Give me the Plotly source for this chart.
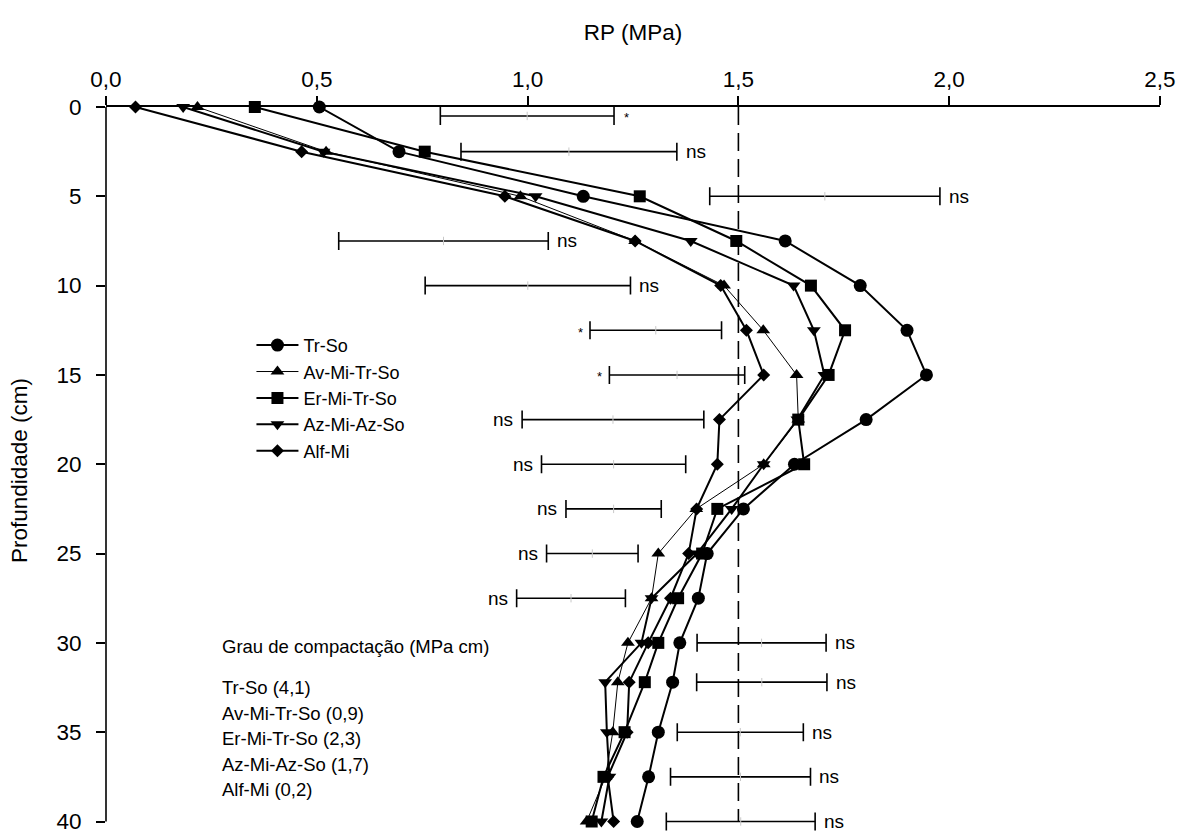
import plotly.graph_objects as go

# ---------------- data ----------------
depth = [0, 2.5, 5, 7.5, 10, 12.5, 15, 17.5, 20, 22.5, 25, 27.5, 30, 32.2, 35, 37.5, 40]

tr_so = [0.506, 0.695, 1.132, 1.611, 1.789, 1.900, 1.946, 1.803, 1.633, 1.512,
         1.426, 1.405, 1.361, 1.344, 1.310, 1.287, 1.260]
av_mi_tr_so = [0.217, 0.522, 0.983, 1.255, 1.466, 1.559, 1.638, 1.642, 1.560, 1.400,
               1.310, 1.294, 1.238, 1.214, 1.202, 1.185, 1.140]
er_mi_tr_so = [0.353, 0.756, 1.266, 1.495, 1.672, 1.753, 1.714, 1.642, 1.656, 1.450,
               1.414, 1.357, 1.310, 1.278, 1.230, 1.180, 1.152]
az_mi_az_so = [0.183, 0.516, 1.019, 1.387, 1.631, 1.679, 1.704, 1.640, 1.560, 1.484,
               1.402, 1.294, 1.270, 1.184, 1.188, 1.194, 1.175]
alf_mi = [0.070, 0.464, 0.946, 1.255, 1.458, 1.519, 1.560, 1.455, 1.450, 1.401,
          1.382, 1.339, 1.286, 1.241, 1.236, 1.190, 1.204]

series_names = ["Tr-So", "Av-Mi-Tr-So", "Er-Mi-Tr-So", "Az-Mi-Az-So", "Alf-Mi"]
series_values = [tr_so, av_mi_tr_so, er_mi_tr_so, az_mi_az_so, alf_mi]

# significance intervals per depth
bar_depth = [0.5, 2.5, 5, 7.5, 10, 12.5, 15, 17.5, 20, 22.5, 25, 27.5, 30, 32.2, 35, 37.5, 40]
bar_lo = [0.793, 0.842, 1.432, 0.552, 0.757, 1.148, 1.194, 0.987, 1.033, 1.091,
          1.045, 0.974, 1.402, 1.401, 1.355, 1.339, 1.329]
bar_hi = [1.205, 1.354, 1.978, 1.049, 1.244, 1.460, 1.515, 1.418, 1.375, 1.317,
          1.262, 1.232, 1.708, 1.710, 1.654, 1.671, 1.682]
bar_label = ["*", "ns", "ns", "ns", "ns", "*", "*", "ns", "ns", "ns",
             "ns", "ns", "ns", "ns", "ns", "ns", "ns"]
bar_label_side = ["right", "right", "right", "right", "right", "left", "left", "left", "left", "left",
                  "left", "left", "right", "right", "right", "right", "right"]

x_tickvals = [0, 0.5, 1.0, 1.5, 2.0, 2.5]
x_ticktext = ["0,0", "0,5", "1,0", "1,5", "2,0", "2,5"]
y_tickvals = [0, 5, 10, 15, 20, 25, 30, 35, 40]
depth_max = 40

critical_rp = 1.5

compaction_title = "Grau de compactação (MPa cm)"
compaction_names = ["Tr-So", "Av-Mi-Tr-So", "Er-Mi-Tr-So", "Az-Mi-Az-So", "Alf-Mi"]
compaction_values = ["4,1", "0,9", "2,3", "1,7", "0,2"]

# ---------------- styles ----------------
symbols = ["circle", "triangle-up", "square", "triangle-down", "diamond"]
msizes = [13, 12, 12, 12, 10]
lwidths = [2, 1, 2, 2, 2]
FONT = "Liberation Sans, Arial, sans-serif"

fig = go.Figure()

for name, vals, sym, ms, lw in zip(series_names, series_values, symbols, msizes, lwidths):
    fig.add_trace(go.Scatter(
        x=vals, y=depth, name=name, mode="lines+markers",
        line=dict(color="black", width=lw),
        marker=dict(symbol=sym, size=ms, color="black", line=dict(width=0)),
        cliponaxis=False, legendgroup=name,
    ))

# interval bars
centers = [(a + b) / 2 for a, b in zip(bar_lo, bar_hi)]
halves = [(b - a) / 2 for a, b in zip(bar_lo, bar_hi)]
fig.add_trace(go.Scatter(
    x=centers, y=bar_depth, mode="markers", showlegend=False,
    marker=dict(symbol="line-ns", size=6, color="#c8c8c8", line=dict(width=1, color="#c8c8c8")),
    error_x=dict(type="data", array=halves, symmetric=True, width=9, thickness=1.6, color="black"),
    cliponaxis=False, hoverinfo="skip",
))

annotations = []
for d, lo, hi, lab, side in zip(bar_depth, bar_lo, bar_hi, bar_label, bar_label_side):
    small = lab == "*"
    fnt = dict(family=FONT, size=13 if small else 19, color="black")
    if side == "right":
        annotations.append(dict(x=hi, y=d, xref="x", yref="y", text=lab, showarrow=False,
                                xanchor="left", yanchor="middle", xshift=7 if not small else 8,
                                yshift=0 if not small else -2, font=fnt))
    else:
        annotations.append(dict(x=lo, y=d, xref="x", yref="y", text=lab, showarrow=False,
                                xanchor="right", yanchor="middle", xshift=-7 if not small else -5,
                                yshift=0 if not small else -2, font=fnt))

# compaction text block
annotations.append(dict(x=0.108, y=30.2, xref="paper", yref="y", text=compaction_title,
                        showarrow=False, xanchor="left", yanchor="middle",
                        font=dict(family=FONT, size=18.5, color="black")))
for i, (n, v) in enumerate(zip(compaction_names, compaction_values)):
    annotations.append(dict(x=0.108, y=32.5, xref="paper", yref="y", text=f"{n} ({v})",
                            showarrow=False, xanchor="left", yanchor="middle", yshift=-25.5 * i,
                            font=dict(family=FONT, size=18.5, color="black")))

# reference line of critical resistance
fig.add_shape(type="line", x0=critical_rp, x1=critical_rp, y0=0, y1=depth_max, xref="x", yref="y",
              line=dict(color="black", width=1.6, dash="18px,8px"), layer="below")
# left axis line (ends at the last depth tick)
fig.add_shape(type="line", x0=0, x1=0, y0=0, y1=depth_max, xref="paper", yref="y",
              line=dict(color="black", width=1.6), layer="above")

fig.update_layout(
    width=1189, height=835,
    margin=dict(l=106, r=29, t=107, b=1),
    paper_bgcolor="white", plot_bgcolor="white",
    font=dict(family=FONT, color="black", size=20),
    showlegend=True,
    legend=dict(x=0.138, y=0.6975, xanchor="left", yanchor="top", bgcolor="rgba(0,0,0,0)",
                font=dict(family=FONT, size=18, color="black"), itemwidth=42,
                tracegroupgap=0, traceorder="grouped"),
    annotations=annotations,
)
fig.update_xaxes(
    side="top", range=[0, 2.5], tickvals=x_tickvals, ticktext=x_ticktext,
    showline=True, linecolor="black", linewidth=1.6, ticks="outside", ticklen=9,
    tickwidth=1.6, tickcolor="black", showgrid=False, zeroline=False,
    tickfont=dict(family=FONT, size=22.5),
    title=dict(text="RP (MPa)", font=dict(family=FONT, size=22.5), standoff=20),
)
fig.update_yaxes(
    range=[depth_max + 0.7, 0], tickvals=y_tickvals, showline=False,
    ticks="outside", ticklen=9, tickwidth=1.6, tickcolor="black", showgrid=False,
    zeroline=False, tickfont=dict(family=FONT, size=22.5), ticklabelstandoff=10,
    title=dict(text="Profundidade (cm)", font=dict(family=FONT, size=22.5), standoff=22),
)

fig.write_html("out.html")
